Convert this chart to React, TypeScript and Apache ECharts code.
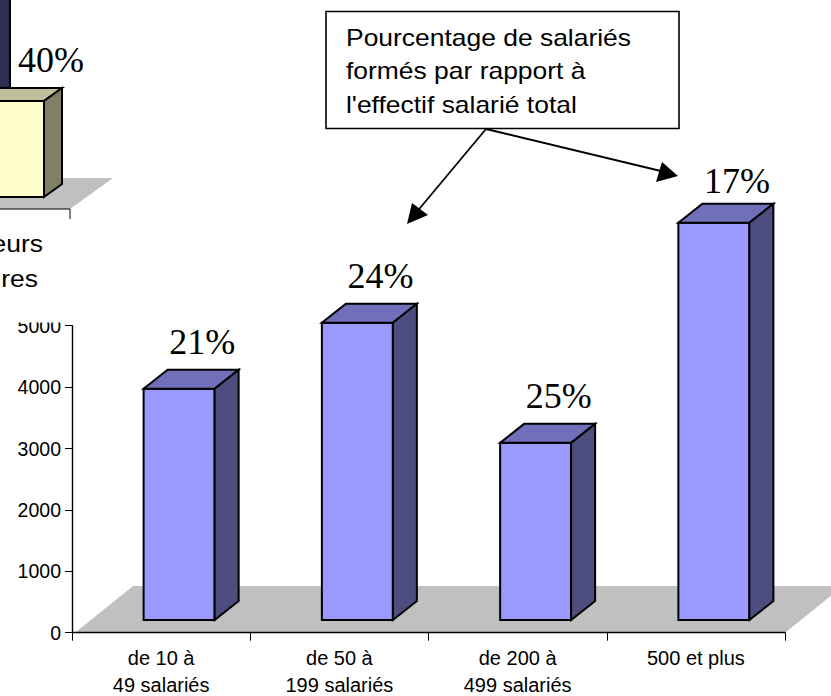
import React, { useEffect, useRef } from "react";
import * as echarts from "echarts";

const categories = ["de 10 à\n49 salariés", "de 50 à\n199 salariés", "de 200 à\n499 salariés", "500 et plus"];
const employeeCounts = [3765, 4840, 2885, 6470];
const trainedShare = ["21%", "24%", "25%", "17%"];
const yTickMax = 5000;
const yTickStep = 1000;

const croppedCategories = ["hors cadre gauche", "droite"];
const croppedDark = [100, null];
const croppedCream = [null, 40];
const croppedShare = ["", "40%"];
const croppedLabelLines = ["eurs", "res"];

const noteLines = ["Pourcentage de salariés", "formés par rapport à", "l'effectif salarié total"];

const SANS = "'Liberation Sans', Arial, sans-serif";
const SERIF = "'Liberation Serif', 'Times New Roman', serif";
const EDGE = "#000";

type BarStyle = {
  front: string; top: string; side: string;
  width: number; offX: number; offY: number; depthX: number; depthY: number;
  labelDx: number; labelDy: number; labels: string[]; labelShift?: number[];
};

function bar3d(style: BarStyle) {
  return (params: any, api: any) => {
    const idx = api.value(0);
    const val = api.value(1);
    const [cx, yTop0] = api.coord([idx, val]);
    const [, yBase0] = api.coord([idx, 0]);
    const x0 = cx + style.offX - style.width / 2;
    const x1 = x0 + style.width;
    const yT = yTop0 + style.offY;
    const yB = yBase0 + style.offY;
    const dx = style.depthX;
    const dy = style.depthY;
    const stroke = { stroke: EDGE, lineWidth: 2, lineJoin: "miter" };
    const children: any[] = [
      { type: "polygon", shape: { points: [[x0, yB], [x1, yB], [x1, yT], [x0, yT]] }, style: { fill: style.front, ...stroke } },
      { type: "polygon", shape: { points: [[x0, yT], [x1, yT], [x1 + dx, yT - dy], [x0 + dx, yT - dy]] }, style: { fill: style.top, ...stroke } },
      { type: "polygon", shape: { points: [[x1, yB], [x1 + dx, yB - dy], [x1 + dx, yT - dy], [x1, yT]] }, style: { fill: style.side, ...stroke } },
    ];
    const label = style.labels[params.dataIndex];
    if (label) {
      const shift = style.labelShift ? style.labelShift[params.dataIndex] : 0;
      children.push({
        type: "text",
        x: cx + style.offX + style.labelDx,
        y: yT - dy + style.labelDy + shift,
        style: { text: label, fill: "#000", font: `36px ${SERIF}`, align: "center", verticalAlign: "middle" },
      });
    }
    return { type: "group", children };
  };
}

export default function App() {
  const ref = useRef<HTMLDivElement>(null);
  useEffect(() => {
    if (!ref.current) return;
    const chart = echarts.init(ref.current, undefined, { renderer: "svg" });
    const mainBar: BarStyle = {
      front: "#9999FF", top: "#7070BA", side: "#4D4D80",
      width: 71, offX: 18, offY: -12.7, depthX: 24, depthY: 19,
      labelDx: 23, labelDy: -28, labels: trainedShare, labelShift: [0, 0, 0, 5],
    };
    const creamBar: BarStyle = {
      front: "#FFFFCC", top: "#BFBF99", side: "#808066",
      width: 71, offX: 0, offY: -12, depthX: 18, depthY: 13,
      labelDx: 42.5, labelDy: -28, labels: croppedShare,
    };
    const darkBar: BarStyle = { ...creamBar, front: "#333366", top: "#2A2A55", side: "#2E2E52", labels: ["", ""] };
    const noteStyle = { fill: "#000", font: `23px ${SANS}`, verticalAlign: "middle" };
    chart.setOption({
      animation: false,
      backgroundColor: "#fff",
      grid: [
        { left: 72, width: 713, top: 325.7, height: 307, outerBoundsMode: "none" },
        { left: -69.5, width: 104, top: 0, height: 209, outerBoundsMode: "none" },
      ],
      xAxis: [
        {
          type: "category", data: categories, gridIndex: 0, boundaryGap: true,
          axisLine: { lineStyle: { color: "#000", width: 1.4 } },
          axisTick: { show: true, alignWithLabel: false, length: 8, lineStyle: { color: "#000", width: 1 } },
          axisLabel: { color: "#000", fontFamily: SANS, fontSize: 20, lineHeight: 27, margin: 12, interval: 0 },
        },
        { type: "category", data: croppedCategories, gridIndex: 1, show: false },
      ],
      yAxis: [
        {
          type: "value", gridIndex: 0, min: 0, max: yTickMax, interval: yTickStep,
          splitLine: { show: false },
          axisLine: { show: true, lineStyle: { color: "#000", width: 1.4 } },
          axisTick: { show: true, length: 7, lineStyle: { color: "#000", width: 1 } },
          axisLabel: { color: "#000", fontFamily: SANS, fontSize: 19.5, margin: 11, formatter: (v: number) => String(v) },
        },
        { type: "value", gridIndex: 1, min: 0, max: 87.083, show: false, splitLine: { show: false } },
      ],
      series: [
        {
          type: "custom", xAxisIndex: 1, yAxisIndex: 1, z: 3, clip: false,
          encode: { x: 0, y: 1 },
          data: croppedDark.map((v, i) => [i, v]).filter((d) => d[1] !== null),
          renderItem: bar3d(darkBar),
        },
        {
          type: "custom", xAxisIndex: 1, yAxisIndex: 1, z: 4, clip: false,
          encode: { x: 0, y: 1 },
          data: croppedCream.map((v, i) => [i, v]).filter((d) => d[1] !== null),
          renderItem: bar3d({ ...creamBar, labels: croppedShare.filter(Boolean) }),
        },
        {
          type: "custom", xAxisIndex: 0, yAxisIndex: 0, z: 5, clip: false,
          encode: { x: 0, y: 1 },
          data: employeeCounts.map((v, i) => [i, v]),
          renderItem: bar3d(mainBar),
        },
      ],
      graphic: [
        { type: "polygon", z: 0, shape: { points: [[75, 632.7], [785, 632.7], [843, 586], [133, 586]] }, style: { fill: "#C0C0C0" } },
        { type: "polygon", z: 0, shape: { points: [[0, 209], [70, 209], [113, 178], [0, 178]] }, style: { fill: "#C0C0C0" } },
        { type: "line", z: 1, shape: { x1: 0, y1: 209, x2: 70, y2: 209 }, style: { stroke: "#000", lineWidth: 1.2 } },
        { type: "line", z: 1, shape: { x1: 70, y1: 209, x2: 70, y2: 219 }, style: { stroke: "#000", lineWidth: 1 } },
        { type: "rect", z: 10, shape: { x: 0, y: 290, width: 66, height: 32.5 }, style: { fill: "#fff" } },
        { type: "text", z: 20, x: 43, y: 244, scaleX: 1.15, style: { ...noteStyle, text: croppedLabelLines[0], align: "right" } },
        { type: "text", z: 20, x: 38, y: 279, scaleX: 1.15, style: { ...noteStyle, text: croppedLabelLines[1], align: "right" } },
        { type: "rect", z: 20, shape: { x: 326, y: 11.5, width: 353, height: 117 }, style: { fill: "#fff", stroke: "#000", lineWidth: 1.6 } },
        ...noteLines.map((t, i) => ({
          type: "text", z: 21, x: 346, y: 38 + i * 33.5, scaleX: 1.15, style: { ...noteStyle, text: t, align: "left" },
        })),
        { type: "line", z: 20, shape: { x1: 486, y1: 129, x2: 415, y2: 214 }, style: { stroke: "#000", lineWidth: 1.8 } },
        { type: "polygon", z: 20, shape: { points: [[407, 224], [412, 203], [428, 215]] }, style: { fill: "#000" } },
        { type: "line", z: 20, shape: { x1: 486, y1: 129, x2: 665, y2: 172 }, style: { stroke: "#000", lineWidth: 1.8 } },
        { type: "polygon", z: 20, shape: { points: [[678, 176], [662, 162], [656, 182]] }, style: { fill: "#000" } },
      ],
    });
    return () => chart.dispose();
  }, []);
  return <div ref={ref} style={{ position: "absolute", left: 0, top: 0, width: 831, height: 696 }} />;
}
